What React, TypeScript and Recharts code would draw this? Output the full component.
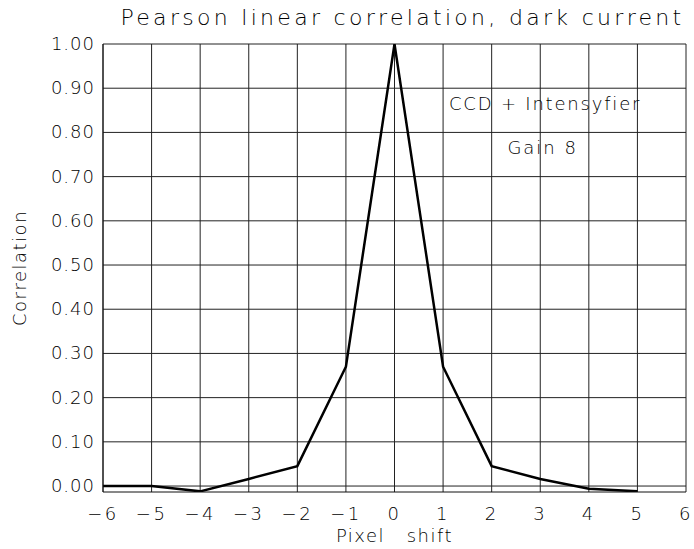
import React from 'react';
import { LineChart, Line, XAxis, YAxis, CartesianGrid, ReferenceDot } from 'recharts';

const shifts = [-6, -5, -4, -3, -2, -1, 0, 1, 2, 3, 4, 5];
const correlation = [0.0, 0.0, -0.012, 0.016, 0.045, 0.27, 1.0, 0.27, 0.045, 0.016, -0.006, -0.012];
const xTicks = [-6, -5, -4, -3, -2, -1, 0, 1, 2, 3, 4, 5, 6];
const yTicks = [0, 0.1, 0.2, 0.3, 0.4, 0.5, 0.6, 0.7, 0.8, 0.9, 1.0];
const titleText = 'Pearson linear correlation, dark current';
const note1 = 'CCD + Intensyfier';
const note2 = 'Gain 8';

const data = shifts.map((s, i) => ({ x: s, y: correlation[i] }));

const FONT = 'DejaVu Sans';
const TXT = '#000';

const XTick = (props: any) => {
  const { x, y, payload } = props;
  const v = payload.value;
  const s = v < 0 ? '\u2212' + Math.abs(v) : String(v);
  return (
    <text x={x} y={y + 20} textAnchor="middle" fontFamily={FONT} fontSize={18} fill={TXT} style={{ letterSpacing: '2.5px', fontWeight: 300 }}>
      {s}
    </text>
  );
};

const YTick = (props: any) => {
  const { x, y, payload } = props;
  return (
    <text x={x} y={y + 6} textAnchor="end" fontFamily={FONT} fontSize={18} fill={TXT} style={{ letterSpacing: '1px', fontWeight: 300 }}>
      {Number(payload.value).toFixed(2)}
    </text>
  );
};

export default function App() {
  return (
    <div style={{ position: 'absolute', left: 0, top: 0, width: 694, height: 549, background: '#fff' }}>
      <div style={{ position: 'absolute', left: 111, width: 583, top: 5, textAlign: 'center', fontFamily: FONT, fontSize: 22, color: TXT, letterSpacing: '3.3px', fontWeight: 300, whiteSpace: 'nowrap' }}>
        {titleText}
      </div>
      <div style={{ position: 'absolute', left: 0, top: 0 }}>
        <LineChart width={694} height={549} data={data} margin={{ top: 44, right: 8, bottom: 0, left: 0 }}>
          <CartesianGrid stroke="#222" strokeWidth={1} horizontalValues={yTicks} verticalValues={xTicks} />
          <XAxis
            dataKey="x"
            type="number"
            domain={[-6, 6]}
            ticks={xTicks}
            interval={0}
            tickLine={false}
            axisLine={{ stroke: '#111' }}
            height={57}
            tick={<XTick />}
            label={{ value: 'Pixel\u00a0\u00a0\u00a0shift', position: 'insideBottom', offset: 7, fontFamily: FONT, fontSize: 18, fill: '#000', style: { letterSpacing: '1.5px', fontWeight: 300, fill: '#000' } }}
          />
          <YAxis
            type="number"
            domain={[-0.0135, 1]}
            allowDataOverflow
            ticks={yTicks}
            interval={0}
            tickLine={false}
            axisLine={{ stroke: '#111' }}
            width={103}
            tick={<YTick />}
            label={{ value: 'Correlation', angle: -90, position: 'insideLeft', offset: 20, fontFamily: FONT, fontSize: 18, fill: TXT, style: { letterSpacing: '1.5px', textAnchor: 'middle', fontWeight: 300 } }}
          />
          <ReferenceDot x={3.1} y={0.866} r={0} fill="none" stroke="none" label={{ value: note1, position: 'center', fontFamily: FONT, fontSize: 18, fill: TXT, style: { letterSpacing: '1.8px', fontWeight: 300 } }} />
          <ReferenceDot x={3.05} y={0.765} r={0} fill="none" stroke="none" label={{ value: note2, position: 'center', fontFamily: FONT, fontSize: 18, fill: TXT, style: { letterSpacing: '2px', fontWeight: 300 } }} />
          <Line type="linear" dataKey="y" stroke="#000" strokeWidth={2.5} dot={false} isAnimationActive={false} />
        </LineChart>
      </div>
    </div>
  );
}
